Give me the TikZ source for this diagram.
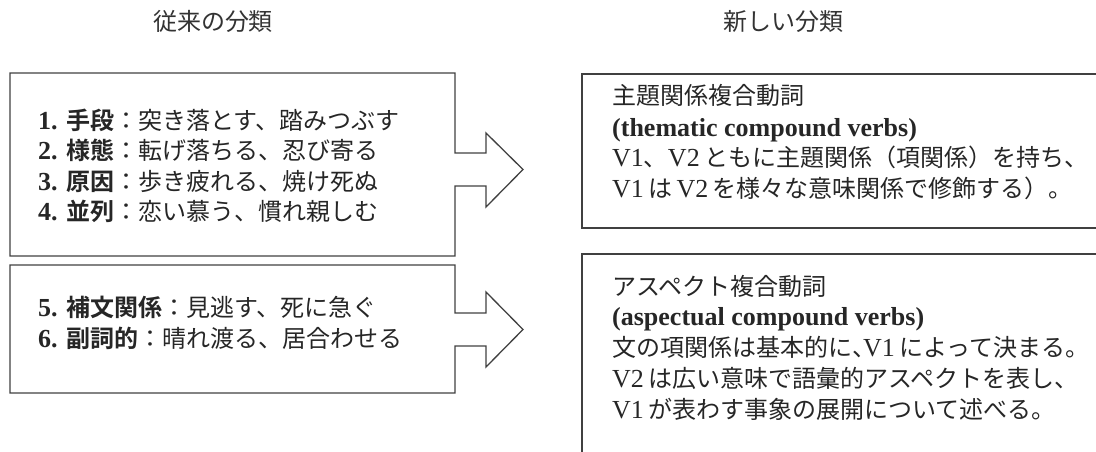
\documentclass[tikz,border=0pt]{standalone}
\usepackage{fontspec}
\setmainfont{Liberation Serif}
\newfontfamily\jp{Noto Sans CJK JP}[Scale=0.923, BoldFont={Noto Sans CJK JP Bold}]
\newcommand{\hw}[1]{\makebox[0.46em][l]{#1}}
\tikzset{
  outline/.style={draw=black!75, line width=1.3pt, line join=miter},
  txt/.style={anchor=base west, inner sep=0pt, text=black!85, font=\fontsize{26}{30}\selectfont},
  head/.style={anchor=base, inner sep=0pt, text=black!80, font=\fontsize{26}{30}\selectfont\jp},
}
\begin{document}
\begin{tikzpicture}[x=1pt,y=-1pt]
\useasboundingbox (0,0) rectangle (1096,452);
\clip (0,0) rectangle (1096,452);
% headings
\node[head] (h1) at (213,31) {従来の分類};
\node[head] (h2) at (783,31) {新しい分類};
% left box 1 with arrow
\draw[outline] (10,73) -- (455,73) -- (455,153) -- (486,153) -- (486,133) -- (523,169.5)
  -- (486,207) -- (486,186) -- (455,186) -- (455,256) -- (10,256) -- cycle;
% left box 2 with arrow
\draw[outline] (10,265) -- (455,265) -- (455,313) -- (486,313) -- (486,292) -- (523,329.5)
  -- (486,367) -- (486,346) -- (455,346) -- (455,393) -- (10,393) -- cycle;
% right boxes
\draw[outline] (582,74) rectangle (1120,228);
\draw[outline] (582,254) rectangle (1120,480);
% left texts
\node[txt] (a1) at (38,129) {\textbf{1.} {\jp\bfseries 手段}{\jp ：突き落とす、踏みつぶす}};
\node[txt] (a2) at (38,159) {\textbf{2.} {\jp\bfseries 様態}{\jp ：転げ落ちる、忍び寄る}};
\node[txt] (a3) at (38,190) {\textbf{3.} {\jp\bfseries 原因}{\jp ：歩き疲れる、焼け死ぬ}};
\node[txt] (a4) at (38,220) {\textbf{4.} {\jp\bfseries 並列}{\jp ：恋い慕う、慣れ親しむ}};
\node[txt] (b1) at (38,316) {\textbf{5.} {\jp\bfseries 補文関係}{\jp ：見逃す、死に急ぐ}};
\node[txt] (b2) at (38,347) {\textbf{6.} {\jp\bfseries 副詞的}{\jp ：晴れ渡る、居合わせる}};
% right texts
\node[txt] (c1) at (612,105) {\jp 主題関係複合動詞};
\node[txt] (c2) at (612,136) {\textbf{(thematic compound verbs)}};
\node[txt] (c3) at (612,166) {V1{\jp 、}V2\,{\jp ともに主題関係（項関係）を持ち、}};
\node[txt] (c4) at (612,197) {V1\,{\jp は}\,V2\,{\jp を様々な意味関係で修飾する）。}};
\node[txt] (d1) at (612,295) {\jp アスペクト複合動詞};
\node[txt] (d2) at (612,325) {\textbf{(aspectual compound verbs)}};
\node[txt] (d3) at (612,356) {{\jp 文の項関係は基本的に\hw{、}}V1\,{\jp によって決まる。}};
\node[txt] (d4) at (612,387) {V2\,{\jp は広い意味で語彙的アスペクトを表し、}};
\node[txt] (d5) at (612,418) {V1\,{\jp が表わす事象の展開について述べる。}};
\end{tikzpicture}
\end{document}
